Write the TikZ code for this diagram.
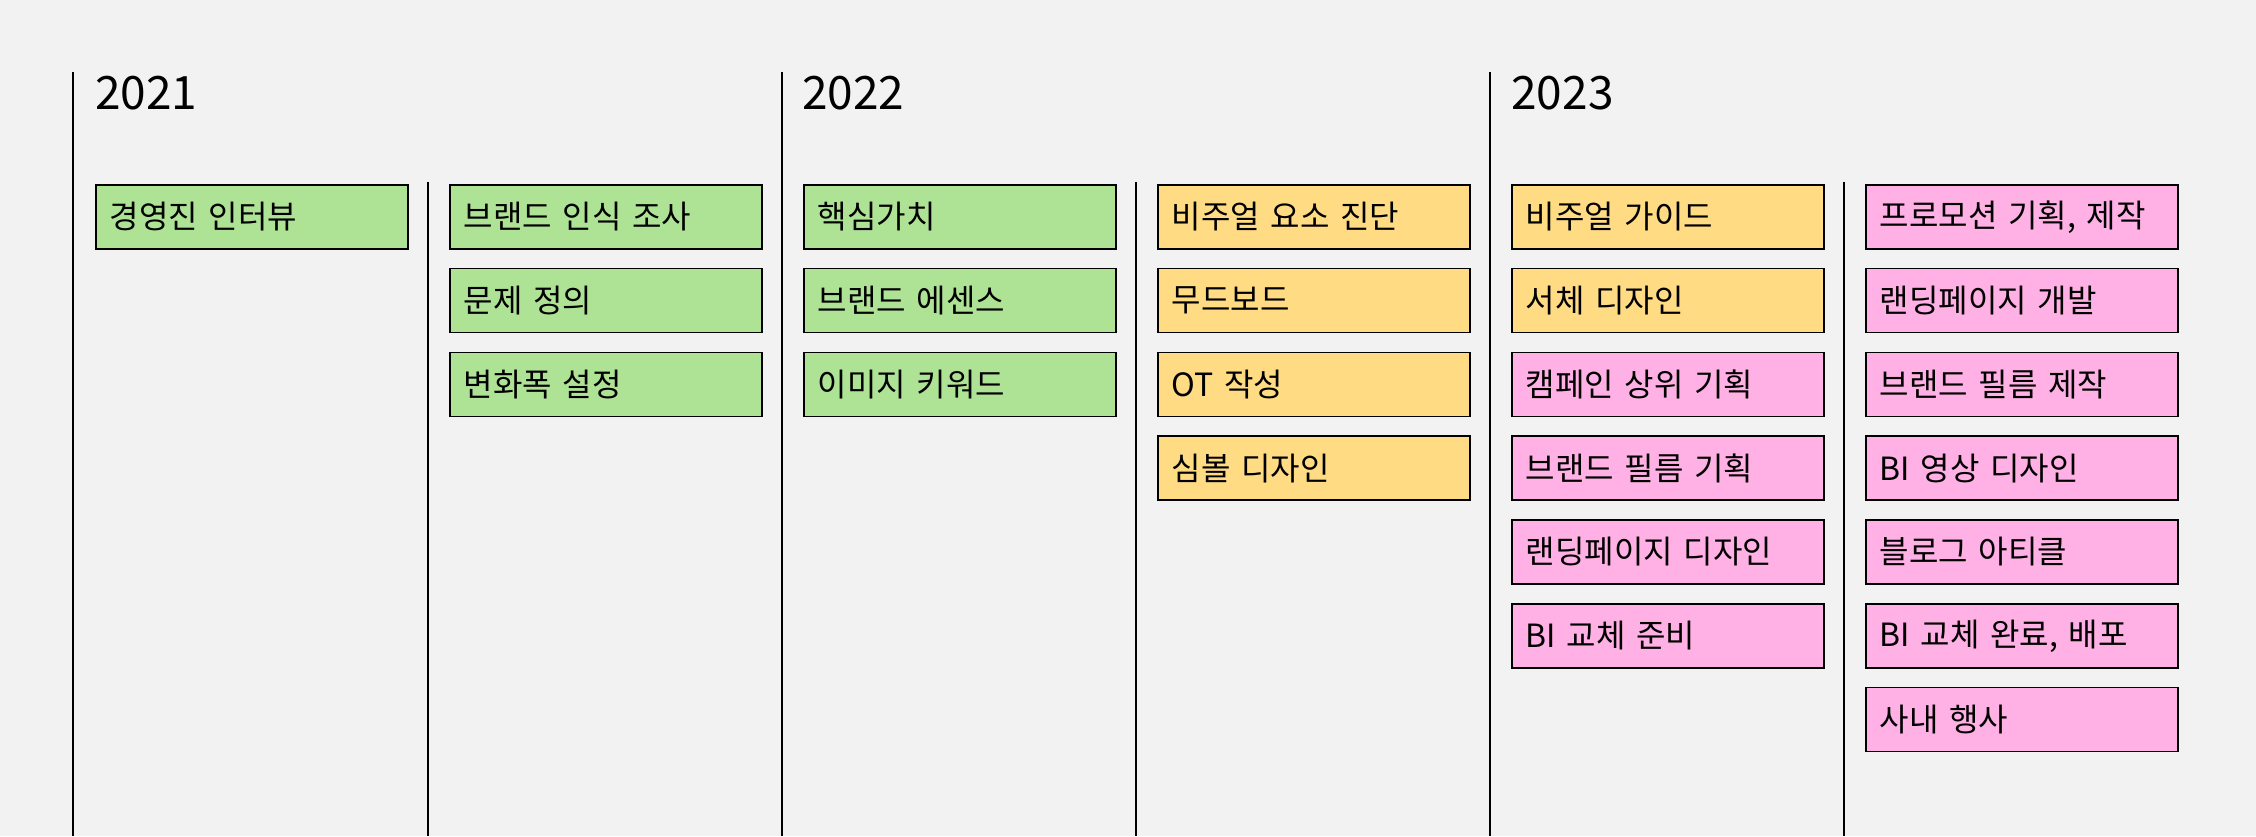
\documentclass[tikz,border=0pt]{standalone}
\usepackage{fontspec}
\setmainfont[WordSpace=0.8]{Noto Sans CJK KR}
\usepackage{tikz}
\usetikzlibrary{positioning}

\definecolor{bgcol}{HTML}{F2F2F2}
\definecolor{greencol}{HTML}{AEE396}
\definecolor{yellowcol}{HTML}{FFDB84}
\definecolor{pinkcol}{HTML}{FFB0E4}

\tikzset{
  task/.style={draw=black, line width=0.8pt, anchor=north west,
    text width=142pt, inner xsep=7pt, minimum height=32pt, align=left,
    font=\fontsize{16}{18}\selectfont},
  greenbox/.style={task, fill=greencol},
  yellowbox/.style={task, fill=yellowcol},
  pinkbox/.style={task, fill=pinkcol},
  year/.style={anchor=base west, inner sep=0pt, font=\fontsize{23}{26}\selectfont},
  divider/.style={line width=0.9pt},
}

\begin{document}
\begin{tikzpicture}[x=0.5pt,y=-0.5pt,node distance=9.1pt]
        \fill[bgcol] (0,0) rectangle (2256,836);

        % years
        \node[year] (y1) at (95,109) {2021};
        \node[year] (y2) at (802,109) {2022};
        \node[year] (y3) at (1511,109) {2023};

        \draw[divider] (73,72) -- (73,836);
        \draw[divider] (782,72) -- (782,836);
        \draw[divider] (1490,72) -- (1490,836);
        \draw[divider] (428,182) -- (428,836);
        \draw[divider] (1136,182) -- (1136,836);
        \draw[divider] (1844,182) -- (1844,836);

        % 2021
        \node[greenbox] (a1) at (95,184) {경영진 인터뷰};

        \node[greenbox] (b1) at (449,184) {브랜드 인식 조사};
        \node[greenbox] (b2) [below=of b1] {문제 정의};
        \node[greenbox] (b3) [below=of b2] {변화폭 설정};

        % 2022
        \node[greenbox] (c1) at (803,184) {핵심가치};
        \node[greenbox] (c2) [below=of c1] {브랜드 에센스};
        \node[greenbox] (c3) [below=of c2] {이미지 키워드};

        \node[yellowbox] (d1) at (1157,184) {비주얼 요소 진단};
        \node[yellowbox] (d2) [below=of d1] {무드보드};
        \node[yellowbox] (d3) [below=of d2] {OT 작성};
        \node[yellowbox] (d4) [below=of d3] {심볼 디자인};

        % 2023
        \node[yellowbox] (e1) at (1511,184) {비주얼 가이드};
        \node[yellowbox] (e2) [below=of e1] {서체 디자인};
        \node[pinkbox] (e3) [below=of e2] {캠페인 상위 기획};
        \node[pinkbox] (e4) [below=of e3] {브랜드 필름 기획};
        \node[pinkbox] (e5) [below=of e4] {랜딩페이지 디자인};
        \node[pinkbox] (e6) [below=of e5] {BI 교체 준비};

        \node[pinkbox] (f1) at (1865,184) {프로모션 기획, 제작};
        \node[pinkbox] (f2) [below=of f1] {랜딩페이지 개발};
        \node[pinkbox] (f3) [below=of f2] {브랜드 필름 제작};
        \node[pinkbox] (f4) [below=of f3] {BI 영상 디자인};
        \node[pinkbox] (f5) [below=of f4] {블로그 아티클};
        \node[pinkbox] (f6) [below=of f5] {BI 교체 완료, 배포};
        \node[pinkbox] (f7) [below=of f6] {사내 행사};
\end{tikzpicture}
\end{document}
